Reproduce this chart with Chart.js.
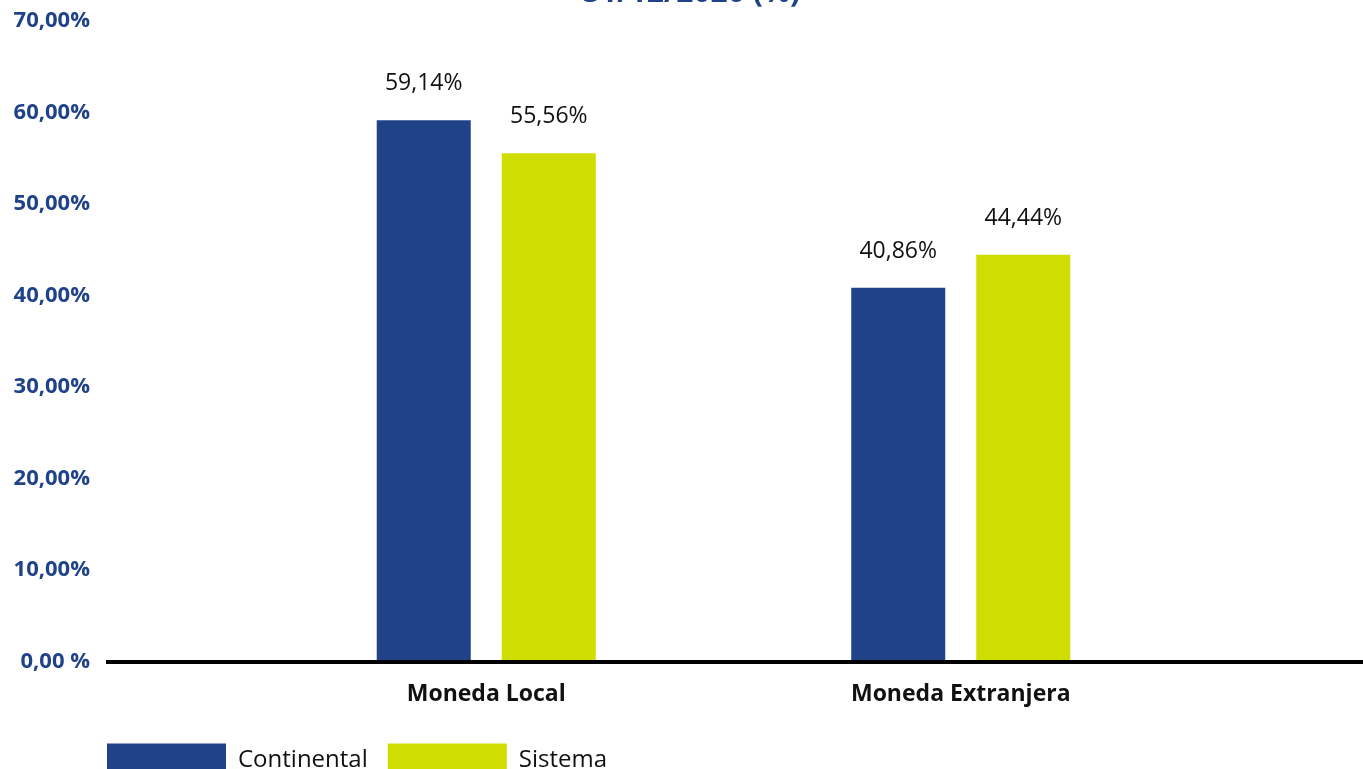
<!DOCTYPE html>
<html>
<head>
<meta charset="utf-8">
<script src="https://cdn.jsdelivr.net/npm/chart.js@4.4.0/dist/chart.umd.min.js"></script>
<style>
  html, body { margin: 0; padding: 0; background: #fff; overflow: hidden; }
  #wrap { position: relative; width: 1363px; height: 800px; }
  canvas { position: absolute; left: 0; top: 0; }
  #titulo {
    position: absolute; left: 0; top: -24px; width: 1383px; margin: 0;
    text-align: center; font: bold 30px "Open Sans"; line-height: 30px; color: #1f4289;
  }
</style>
</head>
<body>
<div id="wrap">
  <canvas id="chart" width="1363" height="800"></canvas>
  <div id="titulo">31/12/2020 (%)</div>
</div>
<script>
// datos
const categorias = ["Moneda Local", "Moneda Extranjera"];
const continental = [59.14, 40.86];
const sistema = [55.56, 44.44];
const ticksY = [0, 10, 20, 30, 40, 50, 60, 70];

const azul = "#1f4289";
const verde = "#cfde00";

function pct(v) {
  return v.toFixed(2).replace(".", ",") + "%";
}

// la leyenda arranca debajo de la linea base, no en el borde
const leyendaIzq = {
  id: "leyendaIzq",
  afterLayout(chart) {
    chart.legend.left = 87;
  }
};

// linea negra del eje
const lineaBase = {
  id: "lineaBase",
  afterDatasetsDraw(chart) {
    const { ctx } = chart;
    const py = chart.scales.y.getPixelForValue(0);
    ctx.save();
    ctx.fillStyle = "#000";
    ctx.fillRect(106, py - 1.5, chart.width - 106, 4);
    ctx.restore();
  }
};

// valores encima de las barras
const etiquetas = {
  id: "etiquetas",
  afterDatasetsDraw(chart) {
    const ctx = chart.ctx;
    ctx.save();
    ctx.font = '23px "Open Sans"';
    ctx.fillStyle = "#111";
    ctx.textAlign = "center";
    ctx.textBaseline = "alphabetic";
    chart.data.datasets.forEach((ds, i) => {
      chart.getDatasetMeta(i).data.forEach((bar, j) => {
        ctx.fillText(pct(ds.data[j]), bar.x, bar.y - 30);
      });
    });
    ctx.restore();
  }
};

new Chart(document.getElementById("chart"), {
  type: "bar",
  data: {
    labels: categorias,
    datasets: [
      { label: "Continental", data: continental, backgroundColor: azul },
      { label: "Sistema", data: sistema, backgroundColor: verde }
    ]
  },
  plugins: [leyendaIzq, lineaBase, etiquetas],
  options: {
    responsive: false,
    animation: false,
    categoryPercentage: 0.527,
    barPercentage: 0.752,
    layout: { padding: { left: 0, top: 21, right: 165, bottom: 12.5 } },
    plugins: {
      tooltip: { enabled: false },
      legend: {
        position: "bottom",
        align: "start",
        labels: {
          boxWidth: 119,
          boxHeight: 34,
          padding: 20,
          color: "#111",
          font: { family: "Open Sans", size: 24 }
        }
      }
    },
    scales: {
      x: {
        grid: { display: false, drawTicks: false },
        border: { display: false },
        afterFit: s => { s.height = 62; },
        ticks: {
          padding: 19,
          color: "#111",
          font: { family: "Open Sans", weight: "bold", size: 23 }
        }
      },
      y: {
        min: 0,
        max: 70,
        grid: { display: false, drawTicks: false },
        border: { display: false },
        afterBuildTicks: s => { s.ticks = ticksY.map(v => ({ value: v })); },
        afterFit: s => {
          s.width = 249;
          s.paddingTop = 0;
          s.paddingBottom = 0;
        },
        ticks: {
          padding: 159,
          color: azul,
          font: { family: "Open Sans", weight: "bold", size: 22 },
          callback: v => v === 0 ? "0,00 %" : pct(v)
        }
      }
    }
  }
});
</script>
</body>
</html>
